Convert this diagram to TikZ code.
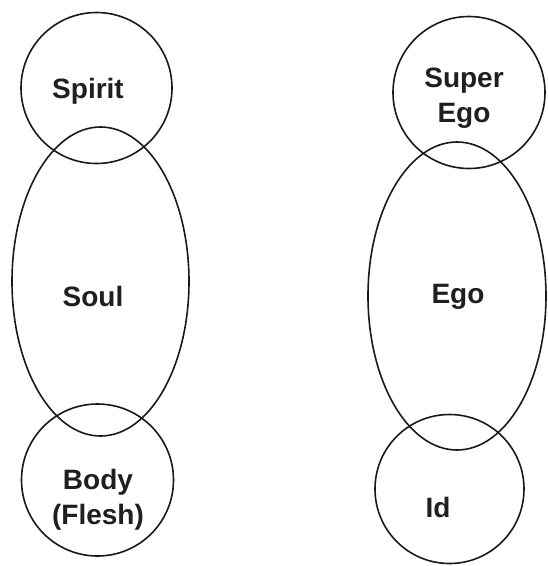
\documentclass[tikz,border=0pt]{standalone}
\usepackage{fontspec}
\setmainfont{Liberation Sans}
\usetikzlibrary{shapes.geometric}
\begin{document}
\begin{tikzpicture}[x=1pt,y=-1pt,
  ring/.style={draw=black!90,line width=1.6pt,circle,inner sep=0pt,minimum size=#1},
  oval/.style={draw=black!90,line width=1.6pt,ellipse,inner sep=0pt,minimum width=#1},
  lbl/.style={font=\fontsize{28}{35}\selectfont\bfseries,text=black!88,align=center,inner sep=0pt}]
\useasboundingbox (0,0) rectangle (548,566);
% left column
\node[ring=151pt] (spirit) at (96.5,88) {};
\node[oval=177pt,minimum height=309pt] (soul) at (100.5,281.5) {};
\node[ring=152pt] (body) at (97.5,480) {};
\node[lbl] (tspirit) at (88,91) {Spirit};
\node[lbl] (tsoul) at (93,296) {Soul};
\node[lbl] (tbody) at (98,500) {Body\\(Flesh)};
% right column
\node[ring=152pt] (superego) at (469,92.5) {};
\node[oval=178pt,minimum height=308pt] (ego) at (457,296) {};
\node[ring=149pt] (id) at (449.5,489) {};
\node[lbl] (tsuperego) at (464,98) {Super\\Ego};
\node[lbl] (tego) at (458,297) {Ego};
\node[lbl] (tid) at (438,507) {Id};
\end{tikzpicture}
\end{document}
